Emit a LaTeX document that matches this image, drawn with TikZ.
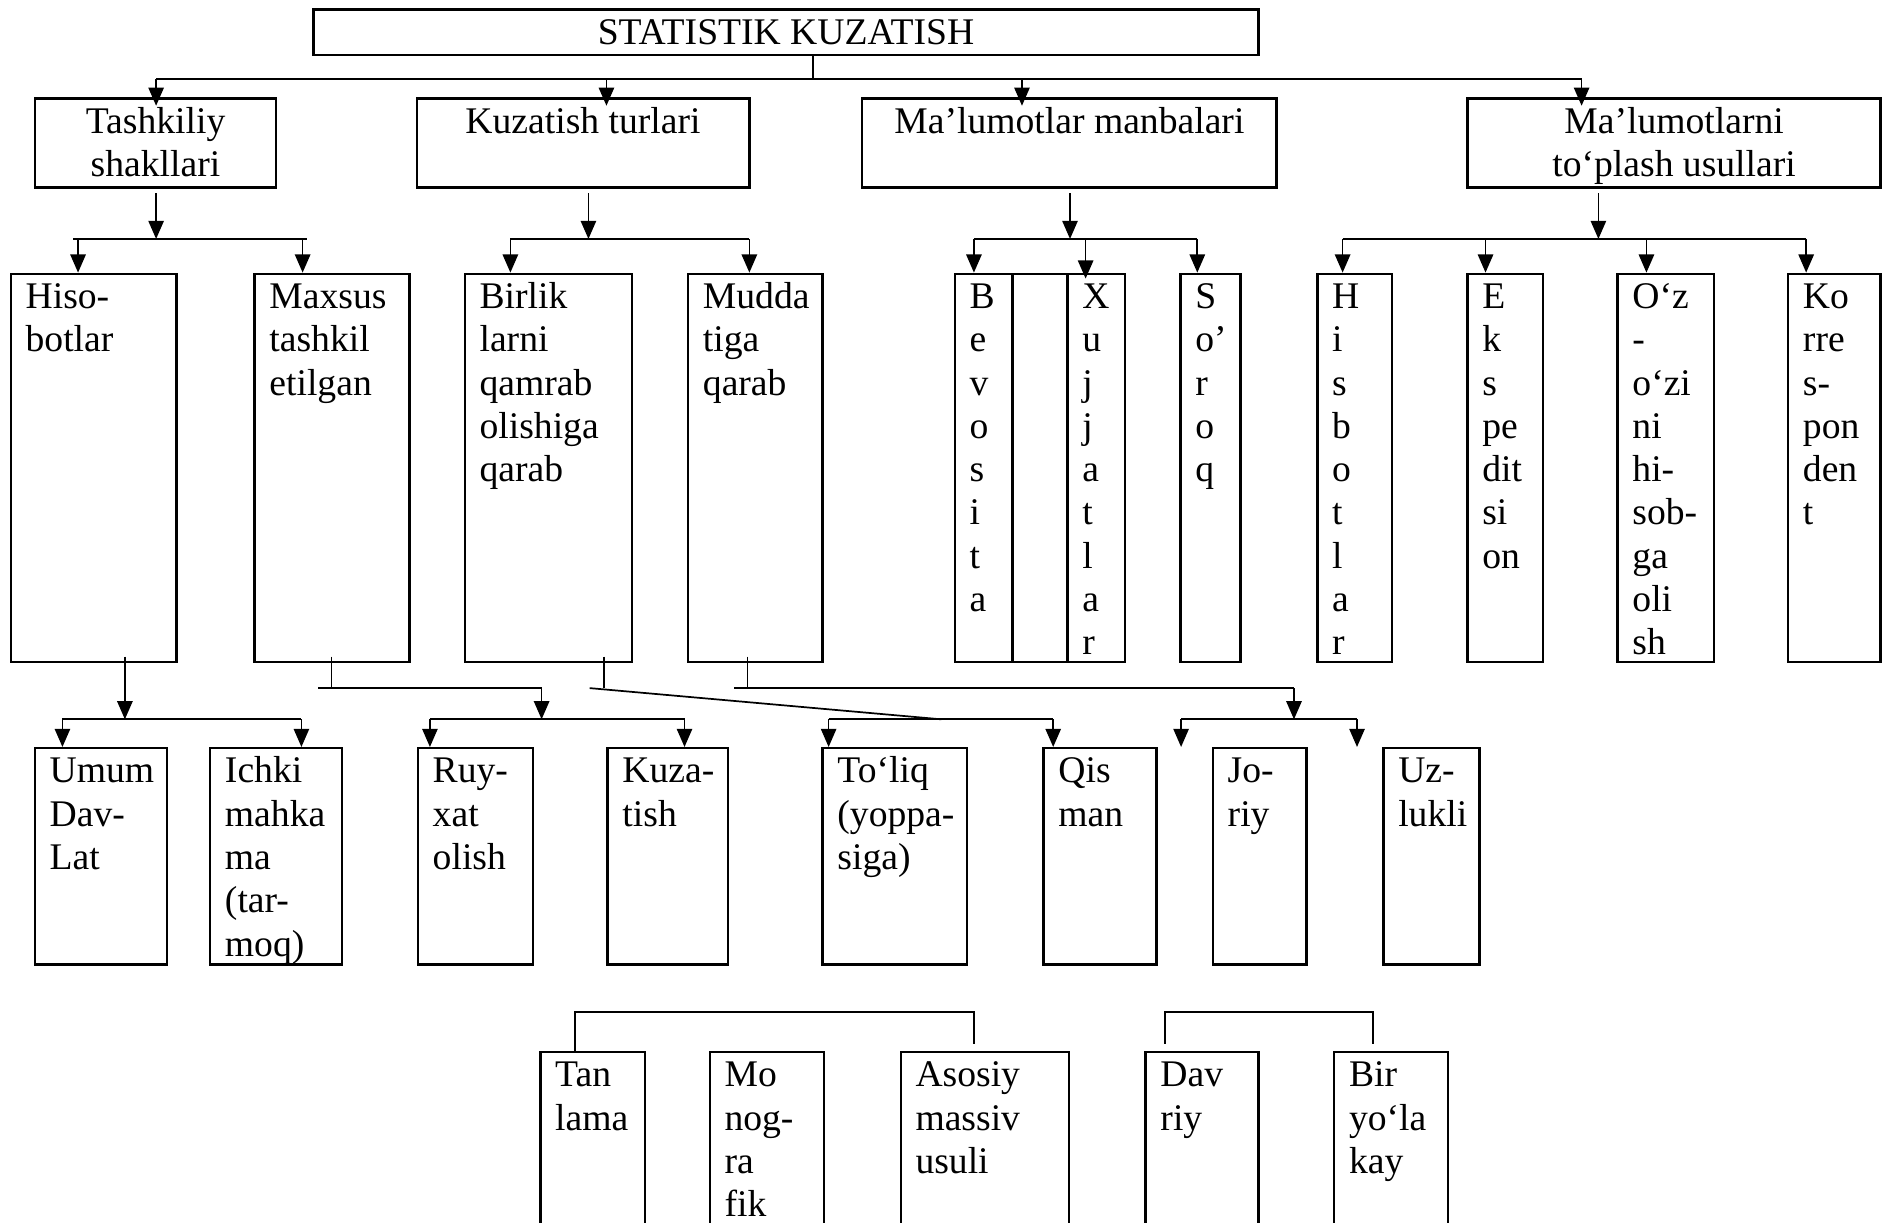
\documentclass[tikz,border=0pt]{standalone}
\usepackage{fontspec}
\setmainfont{Liberation Serif}
\usetikzlibrary{arrows.meta,fit}
\newcommand\mybox[6]{%
  \node[box,fit={(#2,#3) (#4,#5)}] (#1) {};
  \node[txt] (#1-t) at ([xshift=4.9pt,yshift=-1.6pt]#1.north west) {\strut #6};}
\newcommand\mycbox[6]{%
  \node[box,fit={(#2,#3) (#4,#5)}] (#1) {};
  \node[ctxt] (#1-t) at ([yshift=-1.6pt]#1.north) {\strut #6};}
\begin{document}
\begin{tikzpicture}[x=0.383pt,y=-0.383pt,
  box/.style={draw,line width=0.75pt,inner sep=0pt},
  conn/.style={line width=0.55pt},
  arr/.style={conn,-{Triangle[length=5.8pt,width=4.9pt]}},
  txt/.style={inner sep=0pt,align=left,anchor=north west,font=\fontsize{12}{13.8}\selectfont},
  ctxt/.style={inner sep=0pt,align=center,anchor=north,font=\fontsize{12}{13.8}\selectfont}]
\useasboundingbox (0,0) rectangle (1568,1018);
\clip (0,0) rectangle (1568,1018);

% ---------- top ----------
\mycbox{top}{261}{8}{1048}{46}{STATISTIK KUZATISH}

% ---------- level 1 ----------
\mycbox{l1a}{29}{82}{230}{156}{Tashkiliy\\shakllari}
\mycbox{l1b}{347}{82}{624}{156}{Kuzatish turlari}
\mycbox{l1c}{718}{82}{1063}{156}{Ma’lumotlar manbalari}
\mycbox{l1d}{1222}{82}{1566}{156}{Ma’lumotlarni\\to‘plash usullari}

% ---------- level 2 ----------
\mybox{hiso}{9}{228}{147}{551}{Hiso-\\botlar}
\mybox{maxsus}{212}{228}{341}{551}{Maxsus\\tashkil\\etilgan}
\mybox{birlik}{387}{228}{526}{551}{Birlik\\larni\\qamrab\\olishiga\\qarab}
\mybox{mudda}{573}{228}{685}{551}{Mudda\\tiga\\qarab}
\mybox{bev}{795}{228}{843}{551}{B\\e\\v\\o\\s\\i\\t\\a}
\node[box,fit={(843,228) (889,551)}] (midcol) {};
\mybox{xuj}{889}{228}{937}{551}{X\\u\\j\\j\\a\\t\\l\\a\\r}
\mybox{soroq}{983}{228}{1033}{551}{S\\o’\\r\\o\\q}
\mybox{hisb}{1097}{228}{1159}{551}{H\\i\\s\\b\\o\\t\\l\\a\\r}
\mybox{eksp}{1222}{228}{1285}{551}{E\\k\\s\\pe\\dit\\si\\on}
\mybox{ozi}{1347}{228}{1427}{551}{O‘z\\-\\o‘zi\\ni\\hi-\\sob-\\ga\\oli\\sh}
\mybox{korr}{1489}{228}{1566}{551}{Ko\\rre\\s-\\pon\\den\\t}

% ---------- level 3 ----------
\mybox{umum}{29}{623}{139}{803}{Umum\\Dav-\\Lat}
\mybox{ichki}{175}{623}{285}{803}{Ichki\\mahka\\ma\\(tar-\\moq)}
\mybox{ruy}{348}{623}{444}{803}{Ruy-\\xat\\olish}
\mybox{kuza}{506}{623}{606}{803}{Kuza-\\tish}
\mybox{toliq}{685}{623}{805}{803}{To‘liq\\(yoppa-\\siga)}
\mybox{qis}{869}{623}{963}{803}{Qis\\man}
\mybox{joriy}{1010}{623}{1088}{803}{Jo-\\riy}
\mybox{uz}{1152}{623}{1232}{803}{Uz-\\lukli}

% ---------- level 4 ----------
\mybox{tan}{450}{876}{537}{1040}{Tan\\lama}
\mybox{mono}{591}{876}{686}{1040}{Mo\\nog-\\ra\\fik}
\mybox{asos}{750}{876}{890}{1040}{Asosiy\\massiv\\usuli}
\mybox{davr}{954}{876}{1048}{1040}{Dav\\riy}
\mybox{biry}{1111}{876}{1206}{1040}{Bir\\yo‘la\\kay}

% ---------- connectors: top ----------
\coordinate (r0) at (677,66);
\coordinate (r0a) at (130,66);
\coordinate (r0b) at (505,66);
\coordinate (r0c) at (851,66);
\coordinate (r0d) at (1317,66);
\draw[conn] (top.south -| r0) -- (r0);
\draw[conn] (r0a) -- (r0d);
\draw[arr,shorten >=-2.7pt] (r0a) -- (r0a |- l1a.north);
\draw[arr,shorten >=-2.7pt] (r0b) -- (r0b |- l1b.north);
\draw[arr,shorten >=-2.7pt] (r0c) -- (r0c |- l1c.north);
\draw[arr,shorten >=-2.7pt] (r0d) -- (r0d |- l1d.north);

% ---------- level 1 -> level 2 ----------
\coordinate (s1) at (130,199);
\coordinate (s1l) at (61,199);
\coordinate (s1r) at (256,199);
\coordinate (a-hiso) at (65,199);
\coordinate (a-maxsus) at (252,199);
\draw[arr,shorten <=1.5pt] (l1a.south -| s1) -- (s1);
\draw[conn] (s1l) -- (s1r);
\draw[arr] (a-hiso) -- (a-hiso |- hiso.north);
\draw[arr] (a-maxsus) -- (a-maxsus |- maxsus.north);

\coordinate (s2) at (490,199);
\coordinate (a-birlik) at (425,199);
\coordinate (a-mudda) at (624,199);
\draw[arr,shorten <=1.5pt] (l1b.south -| s2) -- (s2);
\draw[conn] (a-birlik) -- (a-mudda);
\draw[arr] (a-birlik) -- (a-birlik |- birlik.north);
\draw[arr] (a-mudda) -- (a-mudda |- mudda.north);

\coordinate (s3) at (891,199);
\coordinate (a-bev) at (811,199);
\coordinate (a-xuj) at (904,199);
\coordinate (a-soroq) at (997,199);
\draw[arr,shorten <=1.5pt] (l1c.south -| s3) -- (s3);
\draw[conn] (a-bev) -- (a-soroq);
\draw[arr] (a-bev) -- (a-bev |- bev.north);
\draw[arr,shorten >=-1.9pt] (a-xuj) -- (a-xuj |- xuj.north);
\draw[arr] (a-soroq) -- (a-soroq |- soroq.north);

\coordinate (s4) at (1331,199);
\coordinate (a-hisb) at (1118,199);
\coordinate (a-eksp) at (1237,199);
\coordinate (a-ozi) at (1371,199);
\coordinate (a-korr) at (1504,199);
\draw[arr,shorten <=1.5pt] (l1d.south -| s4) -- (s4);
\draw[conn] (a-hisb) -- (a-korr);
\draw[arr] (a-hisb) -- (a-hisb |- hisb.north);
\draw[arr] (a-eksp) -- (a-eksp |- eksp.north);
\draw[arr] (a-ozi) -- (a-ozi |- ozi.north);
\draw[arr] (a-korr) -- (a-korr |- korr.north);

% ---------- level 2 -> level 3 ----------
% Hisobotlar
\coordinate (h3) at (104,599);
\coordinate (a-umum) at (52,599);
\coordinate (a-ichki) at (251,599);
\draw[arr,shorten <=-2pt] (hiso.south -| h3) -- (h3);
\draw[conn] (a-umum) -- (a-ichki);
\draw[arr] (a-umum) -- (a-umum |- umum.north);
\draw[arr] (a-ichki) -- (a-ichki |- ichki.north);

% Maxsus
\coordinate (m3) at (276,573);
\coordinate (m3l) at (265,573);
\coordinate (m3r) at (451,573);
\coordinate (m3b) at (451,599);
\coordinate (a-ruy) at (358,599);
\coordinate (a-kuza) at (570,599);
\draw[conn,shorten <=-2pt] (maxsus.south -| m3) -- (m3);
\draw[conn] (m3l) -- (m3r);
\draw[arr] (m3r) -- (m3b);
\draw[conn] (a-ruy) -- (a-kuza);
\draw[arr] (a-ruy) -- (a-ruy |- ruy.north);
\draw[arr] (a-kuza) -- (a-kuza |- kuza.north);

% Birlik
\coordinate (b3) at (503,573);
\coordinate (b3l) at (491,573);
\coordinate (b3m) at (784,599);
\coordinate (a-toliq) at (690,599);
\coordinate (a-qis) at (877,599);
\draw[conn,shorten <=-2pt] (birlik.south -| b3) -- (b3);
\draw[conn] (b3l) -- (b3m);
\draw[conn] (a-toliq) -- (a-qis);
\draw[arr] (a-toliq) -- (a-toliq |- toliq.north);
\draw[arr] (a-qis) -- (a-qis |- qis.north);

% Mudda
\coordinate (d3) at (622.5,573);
\coordinate (d3l) at (611.5,573);
\coordinate (d3r) at (1077.5,573);
\coordinate (d3b) at (1077.5,599);
\coordinate (a-f1) at (983.5,599);
\coordinate (a-f2) at (1130,599);
\draw[conn,shorten <=-2pt] (mudda.south -| d3) -- (d3);
\draw[conn] (d3l) -- (d3r);
\draw[arr] (d3r) -- (d3b);
\draw[conn] (a-f1) -- (a-f2);
\draw[arr] (a-f1) -- (a-f1 |- joriy.north);
\draw[arr] (a-f2) -- (a-f2 |- uz.north);

% ---------- level 4 brackets ----------
\coordinate (k1) at (479,843);
\coordinate (k2) at (811,843);
\coordinate (k3) at (811,869);
\draw[conn] (k1 |- tan.north) -- (k1) -- (k2) -- (k3);
\coordinate (q0) at (970,869);
\coordinate (q1) at (970,843);
\coordinate (q2) at (1143,843);
\coordinate (q3) at (1143,869);
\draw[conn] (q0) -- (q1) -- (q2) -- (q3);
\end{tikzpicture}
\end{document}
